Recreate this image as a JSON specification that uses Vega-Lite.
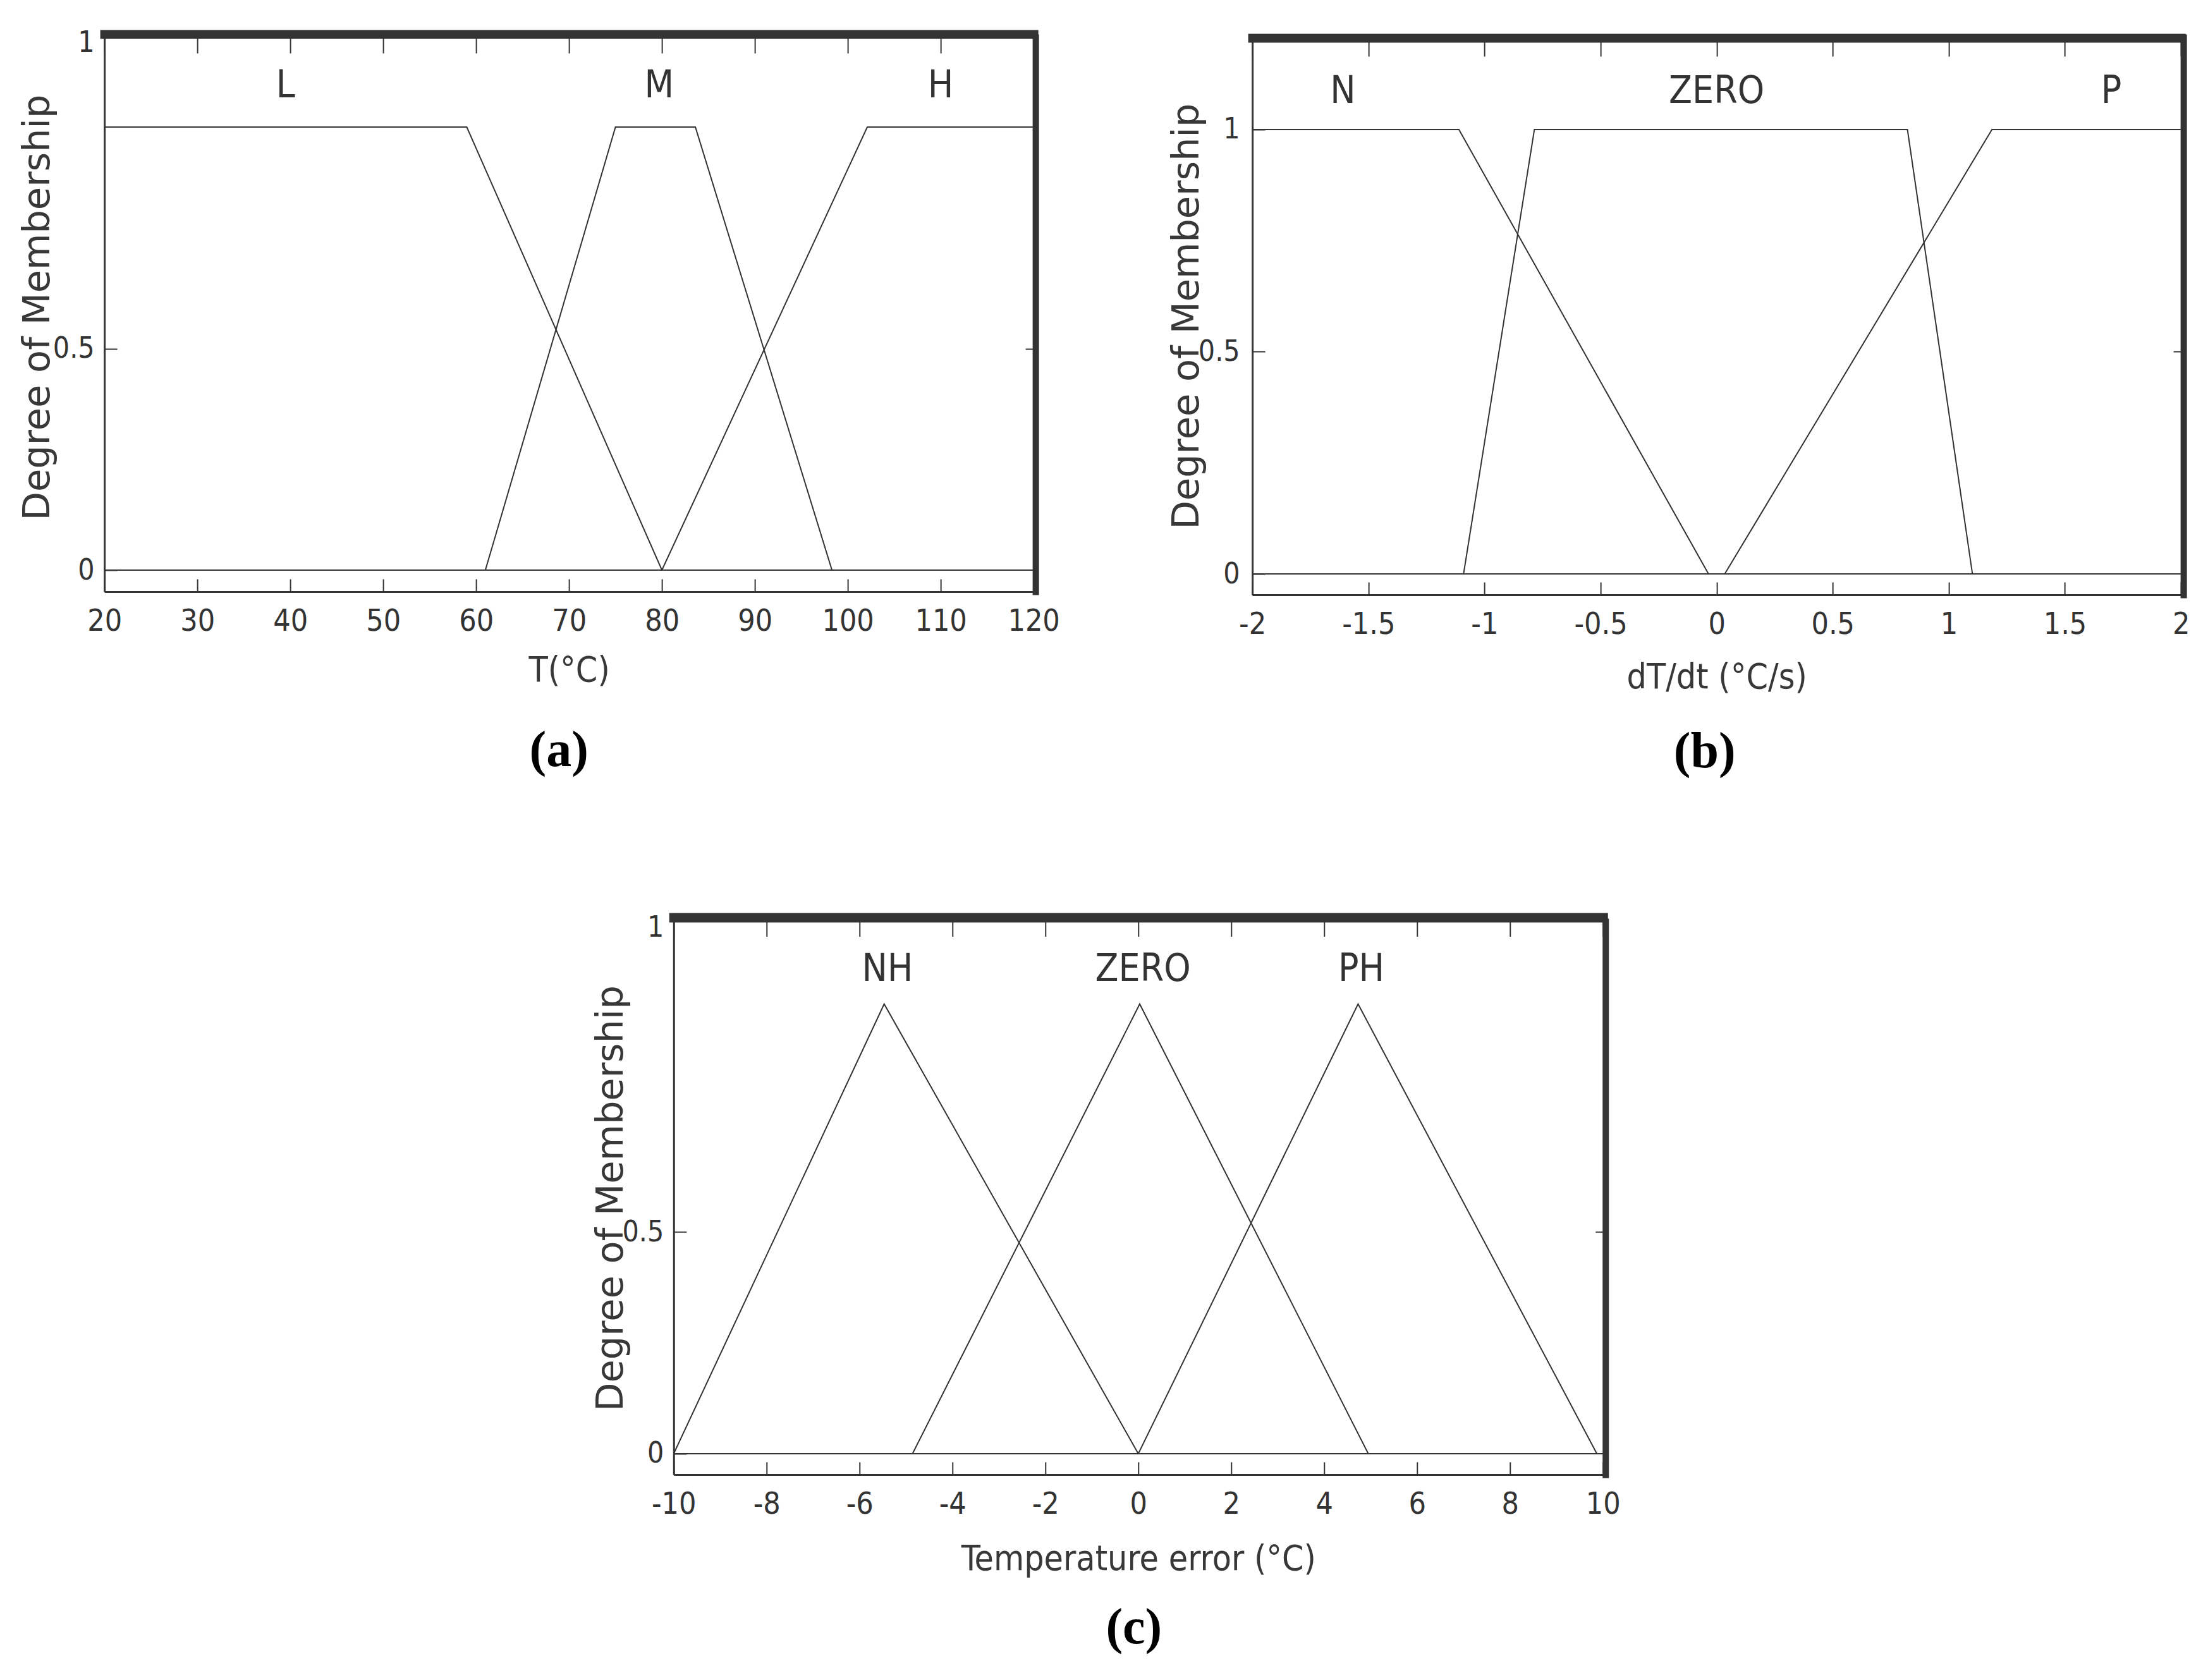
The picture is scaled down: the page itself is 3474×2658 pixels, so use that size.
{
  "$schema": "https://vega.github.io/schema/vega-lite/v6.json",
  "background": "white",
  "padding": {"left": 30, "top": 44, "right": 5, "bottom": 5},
  "config": {
    "view": {"stroke": null},
    "axis": {"grid": false, "domainColor": "#333333", "tickColor": "#333333", "labelColor": "#333333", "titleColor": "#383838"}
  },
  "center": true,
  "spacing": 214,
  "vconcat": [
    {
      "hconcat": [
        {
          "width": 1470,
          "height": 877,
          "title": {"text": "(a)", "orient": "bottom", "offset": 61, "dx": -16, "font": "Liberation Serif", "fontSize": 80, "fontWeight": "bold", "color": "#000000"},
          "layer": [
            {
              "data": {"values": [
                {"set": "L", "x": 20, "y": 1}, {"set": "L", "x": 59, "y": 1}, {"set": "L", "x": 80, "y": 0}, {"set": "L", "x": 120, "y": 0},
                {"set": "M", "x": 20, "y": 0}, {"set": "M", "x": 61, "y": 0}, {"set": "M", "x": 75, "y": 1}, {"set": "M", "x": 83.6, "y": 1}, {"set": "M", "x": 98.3, "y": 0}, {"set": "M", "x": 120, "y": 0},
                {"set": "H", "x": 20, "y": 0}, {"set": "H", "x": 80, "y": 0}, {"set": "H", "x": 102.1, "y": 1}, {"set": "H", "x": 120, "y": 1}
              ]},
              "mark": {"type": "line", "stroke": "#333333", "strokeWidth": 2},
              "encoding": {
                "x": {"field": "x", "type": "quantitative", "scale": {"domain": [20, 120], "nice": false, "zero": false},
                  "axis": {"orient": "bottom", "values": [20, 30, 40, 50, 60, 70, 80, 90, 100, 110, 120], "labelExpr": "'' + datum.value", "title": "T(°C)",
                    "domainWidth": 3, "tickWidth": 2, "tickSize": -20, "labelPadding": 43, "labelFont": "DejaVu Sans Condensed, sans-serif", "labelFontSize": 48, "labelFlush": false, "labelOverlap": false,
                    "minExtent": 75, "maxExtent": 75, "titlePadding": 23, "titleFont": "DejaVu Sans Condensed, sans-serif", "titleFontSize": 55, "titleFontWeight": "normal"}},
                "y": {"field": "y", "type": "quantitative", "scale": {"domain": [-0.0485, 1.2026], "nice": false, "zero": false},
                  "axis": {"orient": "left", "values": [0, 0.5, 1.19], "labelExpr": "datum.value > 1 ? '1' : (datum.value == 0.5 ? '0.5' : '0')", "title": "Degree of Membership",
                    "domainWidth": 3, "tickWidth": 2, "tickSize": -20, "tickOpacity": {"condition": {"test": "datum.value > 1", "value": 0}, "value": 1},
                    "labelPadding": 36, "labelFont": "DejaVu Sans Condensed, sans-serif", "labelFontSize": 46, "labelFlush": false, "labelOverlap": false,
                    "minExtent": 50, "maxExtent": 50, "titlePadding": 26, "titleY": 427, "titleFont": "DejaVu Sans", "titleFontSize": 59, "titleFontWeight": "normal"}},
                "detail": {"field": "set"}
              }
            },
            {
              "data": {"values": [
                {"label": "L", "x": 39.5, "y": 1.093}, {"label": "M", "x": 79.7, "y": 1.093}, {"label": "H", "x": 110, "y": 1.093}
              ]},
              "mark": {"type": "text", "font": "DejaVu Sans Condensed, sans-serif", "fontSize": 60, "color": "#333333", "align": "center", "baseline": "middle"},
              "encoding": {
                "x": {"field": "x", "type": "quantitative", "scale": {"domain": [20, 120], "nice": false, "zero": false},
                  "axis": {"orient": "top", "values": [20, 30, 40, 50, 60, 70, 80, 90, 100, 110, 120], "labels": false, "title": null, "domainWidth": 14, "domainCap": "square", "offset": 5, "tickWidth": 2, "tickSize": -30}},
                "y": {"field": "y", "type": "quantitative", "scale": {"domain": [-0.0485, 1.2026], "nice": false, "zero": false},
                  "axis": {"orient": "right", "values": [0.5], "labels": false, "title": null, "domainWidth": 10, "domainCap": "square", "offset": 3, "tickWidth": 2, "tickSize": -16}},
                "text": {"field": "label"}
              }
            }
          ],
          "resolve": {"axis": {"x": "independent", "y": "independent"}}
        },
        {
          "width": 1469,
          "height": 882,
          "title": {"text": "(b)", "orient": "bottom", "offset": 52, "dx": -19, "font": "Liberation Serif", "fontSize": 80, "fontWeight": "bold", "color": "#000000"},
          "layer": [
            {
              "data": {"values": [
                {"set": "N", "x": -2, "y": 1}, {"set": "N", "x": -1.11, "y": 1}, {"set": "N", "x": -0.035, "y": 0}, {"set": "N", "x": 2, "y": 0},
                {"set": "ZERO", "x": -2, "y": 0}, {"set": "ZERO", "x": -1.09, "y": 0}, {"set": "ZERO", "x": -0.785, "y": 1}, {"set": "ZERO", "x": 0.822, "y": 1}, {"set": "ZERO", "x": 1.102, "y": 0}, {"set": "ZERO", "x": 2, "y": 0},
                {"set": "P", "x": -2, "y": 0}, {"set": "P", "x": 0.035, "y": 0}, {"set": "P", "x": 1.186, "y": 1}, {"set": "P", "x": 2, "y": 1}
              ]},
              "mark": {"type": "line", "stroke": "#333333", "strokeWidth": 2},
              "encoding": {
                "x": {"field": "x", "type": "quantitative", "scale": {"domain": [-2, 2], "nice": false, "zero": false},
                  "axis": {"orient": "bottom", "values": [-2, -1.5, -1, -0.5, 0, 0.5, 1, 1.5, 2], "labelExpr": "'' + datum.value", "title": "dT/dt (°C/s)",
                    "domainWidth": 3, "tickWidth": 2, "tickSize": -20, "labelPadding": 43, "labelFont": "DejaVu Sans Condensed, sans-serif", "labelFontSize": 48, "labelFlush": false, "labelOverlap": false,
                    "minExtent": 75, "maxExtent": 75, "titlePadding": 29, "titleFont": "DejaVu Sans Condensed, sans-serif", "titleFontSize": 55, "titleFontWeight": "normal"}},
                "y": {"field": "y", "type": "quantitative", "scale": {"domain": [-0.0469, 1.2076], "nice": false, "zero": false},
                  "axis": {"orient": "left", "values": [0, 0.5, 1], "labelExpr": "datum.value == 1 ? '1' : (datum.value == 0.5 ? '0.5' : '0')", "title": "Degree of Membership",
                    "domainWidth": 3, "tickWidth": 2, "tickSize": -20,
                    "labelPadding": 40, "labelFont": "DejaVu Sans Condensed, sans-serif", "labelFontSize": 46, "labelFlush": false, "labelOverlap": false,
                    "minExtent": 50, "maxExtent": 50, "titlePadding": 24, "titleFont": "DejaVu Sans", "titleFontSize": 59, "titleFontWeight": "normal"}},
                "detail": {"field": "set"}
              }
            },
            {
              "data": {"values": [
                {"label": "N", "x": -1.61, "y": 1.085}, {"label": "ZERO", "x": 0.0, "y": 1.085}, {"label": "P", "x": 1.7, "y": 1.085}
              ]},
              "mark": {"type": "text", "font": "DejaVu Sans Condensed, sans-serif", "fontSize": 60, "color": "#333333", "align": "center", "baseline": "middle"},
              "encoding": {
                "x": {"field": "x", "type": "quantitative", "scale": {"domain": [-2, 2], "nice": false, "zero": false},
                  "axis": {"orient": "top", "values": [-2, -1.5, -1, -0.5, 0, 0.5, 1, 1.5, 2], "labels": false, "title": null, "domainWidth": 14, "domainCap": "square", "offset": -1, "tickWidth": 2, "tickSize": -29}},
                "y": {"field": "y", "type": "quantitative", "scale": {"domain": [-0.0469, 1.2076], "nice": false, "zero": false},
                  "axis": {"orient": "right", "values": [0.5], "labels": false, "title": null, "domainWidth": 10, "domainCap": "square", "offset": 4, "tickWidth": 2, "tickSize": -16}},
                "text": {"field": "label"}
              }
            }
          ],
          "resolve": {"axis": {"x": "independent", "y": "independent"}}
        }
      ],
      "spacing": 346,
      "bounds": "flush"
    },
    {
      "width": 1470,
      "height": 875,
      "title": {"text": "(c)", "orient": "bottom", "offset": 43, "dx": -7, "font": "Liberation Serif", "fontSize": 80, "fontWeight": "bold", "color": "#000000"},
      "layer": [
        {
          "data": {"values": [
            {"set": "NH", "x": -10, "y": 0}, {"set": "NH", "x": -5.47, "y": 1.015}, {"set": "NH", "x": 0, "y": 0}, {"set": "NH", "x": 10, "y": 0},
            {"set": "ZERO", "x": -10, "y": 0}, {"set": "ZERO", "x": -4.86, "y": 0}, {"set": "ZERO", "x": 0.03, "y": 1.015}, {"set": "ZERO", "x": 4.95, "y": 0}, {"set": "ZERO", "x": 10, "y": 0},
            {"set": "PH", "x": -10, "y": 0}, {"set": "PH", "x": 0, "y": 0}, {"set": "PH", "x": 4.73, "y": 1.015}, {"set": "PH", "x": 9.87, "y": 0}, {"set": "PH", "x": 10, "y": 0}
          ]},
          "mark": {"type": "line", "stroke": "#333333", "strokeWidth": 2},
          "encoding": {
            "x": {"field": "x", "type": "quantitative", "scale": {"domain": [-10, 10], "nice": false, "zero": false},
              "axis": {"orient": "bottom", "values": [-10, -8, -6, -4, -2, 0, 2, 4, 6, 8, 10], "labelExpr": "'' + datum.value", "title": "Temperature error (°C)",
                "domainWidth": 3, "tickWidth": 2, "tickSize": -20, "labelPadding": 43, "labelFont": "DejaVu Sans Condensed, sans-serif", "labelFontSize": 48, "labelFlush": false, "labelOverlap": false,
                "minExtent": 75, "maxExtent": 75, "titlePadding": 32, "titleFont": "DejaVu Sans Condensed, sans-serif", "titleFontSize": 55, "titleFontWeight": "normal"}},
            "y": {"field": "y", "type": "quantitative", "scale": {"domain": [-0.0471, 1.2011], "nice": false, "zero": false},
              "axis": {"orient": "left", "values": [0, 0.5, 1.188], "labelExpr": "datum.value > 1 ? '1' : (datum.value == 0.5 ? '0.5' : '0')", "title": "Degree of Membership",
                "domainWidth": 3, "tickWidth": 2, "tickSize": -20, "tickOpacity": {"condition": {"test": "datum.value > 1", "value": 0}, "value": 1},
                "labelPadding": 36, "labelFont": "DejaVu Sans Condensed, sans-serif", "labelFontSize": 46, "labelFlush": false, "labelOverlap": false,
                "minExtent": 50, "maxExtent": 50, "titlePadding": 19, "titleFont": "DejaVu Sans", "titleFontSize": 59, "titleFontWeight": "normal"}},
            "detail": {"field": "set"}
          }
        },
        {
          "data": {"values": [
            {"label": "NH", "x": -5.4, "y": 1.093}, {"label": "ZERO", "x": 0.1, "y": 1.093}, {"label": "PH", "x": 4.8, "y": 1.093}
          ]},
          "mark": {"type": "text", "font": "DejaVu Sans Condensed, sans-serif", "fontSize": 60, "color": "#333333", "align": "center", "baseline": "middle"},
          "encoding": {
            "x": {"field": "x", "type": "quantitative", "scale": {"domain": [-10, 10], "nice": false, "zero": false},
              "axis": {"orient": "top", "values": [-10, -8, -6, -4, -2, 0, 2, 4, 6, 8, 10], "labels": false, "title": null, "domainWidth": 15, "domainCap": "square", "offset": 6.5, "tickWidth": 2, "tickSize": -30}},
            "y": {"field": "y", "type": "quantitative", "scale": {"domain": [-0.0471, 1.2011], "nice": false, "zero": false},
              "axis": {"orient": "right", "values": [0.5], "labels": false, "title": null, "domainWidth": 10, "domainCap": "square", "offset": 4, "tickWidth": 2, "tickSize": -16}},
            "text": {"field": "label"}
          }
        }
      ],
      "resolve": {"axis": {"x": "independent", "y": "independent"}}
    }
  ]
}
